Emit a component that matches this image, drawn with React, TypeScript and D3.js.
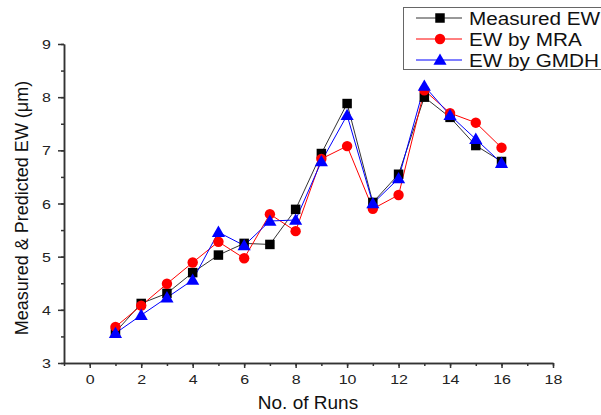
import React, { useEffect, useRef } from 'react';
import * as d3 from 'd3';

const runs = [1, 2, 3, 4, 5, 6, 7, 8, 9, 10, 11, 12, 13, 14, 15, 16];
const measuredEW = [3.58, 4.12, 4.31, 4.7, 5.03, 5.25, 5.23, 5.89, 6.94, 7.88, 6.02, 6.55, 8.0, 7.62, 7.09, 6.79];
const mraEW = [3.68, 4.08, 4.49, 4.89, 5.28, 4.97, 5.8, 5.48, 6.84, 7.08, 5.9, 6.16, 8.13, 7.7, 7.52, 7.05];
const gmdhEW = [3.56, 3.9, 4.23, 4.56, 5.46, 5.21, 5.67, 5.69, 6.79, 7.66, 6.0, 6.47, 8.21, 7.66, 7.21, 6.76];
const xTicks = [0, 2, 4, 6, 8, 10, 12, 14, 16, 18];
const yTicks = [3, 4, 5, 6, 7, 8, 9];
const seriesNames = ['Measured EW', 'EW by MRA', 'EW by GMDH'];

const FONT = '"Liberation Sans", Arial, sans-serif';
// the source picture is a little wider than tall, so text is stretched sideways
const TICK_STRETCH = 1.28;
const LEGEND_STRETCH = 1.12;

const App = () => {
  const ref = useRef<SVGSVGElement>(null);

  useEffect(() => {
    const svg = d3.select(ref.current);
    svg.selectAll('*').remove();

    const x = d3.scaleLinear().domain([-1, 18]).range([64, 553]);
    const y = d3.scaleLinear().domain([3, 9]).range([363, 44]);

    const series = [
      { name: seriesNames[0], values: measuredEW, color: '#000000', line: '#333333', shape: 'square' },
      { name: seriesNames[1], values: mraEW, color: '#ff0000', line: '#ff0000', shape: 'circle' },
      { name: seriesNames[2], values: gmdhEW, color: '#0000ff', line: '#0000ff', shape: 'triangle' },
    ];

    const symbolFor = (shape: string) => {
      if (shape === 'square') return d3.symbol(d3.symbolSquare, 90);
      if (shape === 'circle') return d3.symbol(d3.symbolCircle, 85);
      return d3.symbol(d3.symbolTriangle, 75);
    };

    const axisColor = '#333';

    // x axis, minor ticks every run
    const xAxis = svg.append('g').attr('transform', `translate(0,${y(3)})`);
    xAxis.call(
      d3.axisBottom(x).tickValues(d3.range(-1, 18.5, 1)).tickSize(3).tickFormat(() => '').tickSizeOuter(0)
    );
    const xMajor = xAxis.append('g').call(
      d3.axisBottom(x).tickValues(xTicks).tickSize(5).tickSizeOuter(0).tickFormat(d3.format('d'))
    );
    xAxis.selectAll('path, line').attr('stroke', axisColor).attr('stroke-width', 1.5);
    xMajor.selectAll('text')
      .attr('font-family', FONT)
      .attr('font-size', 12.5)
      .attr('fill', '#222')
      .attr('y', 21)
      .attr('dy', 0)
      .attr('transform', `scale(${TICK_STRETCH},1)`);

    // y axis, minor ticks at halves
    const yAxis = svg.append('g').attr('transform', `translate(${x(-1)},0)`);
    yAxis.call(
      d3.axisLeft(y).tickValues(d3.range(3, 9.01, 0.5)).tickSize(3).tickFormat(() => '').tickSizeOuter(0)
    );
    const yMajor = yAxis.append('g').call(
      d3.axisLeft(y).tickValues(yTicks).tickSize(6).tickSizeOuter(0).tickFormat(d3.format('d'))
    );
    yAxis.selectAll('path, line').attr('stroke', axisColor).attr('stroke-width', 1.5);
    yMajor.selectAll('text')
      .attr('font-family', FONT)
      .attr('font-size', 12.5)
      .attr('fill', '#222')
      .attr('x', -13 / TICK_STRETCH)
      .attr('dy', '0.36em')
      .attr('transform', `scale(${TICK_STRETCH},1)`);

    // series lines
    series.forEach((s) => {
      const line = d3
        .line<number>()
        .x((_, i) => x(runs[i]))
        .y((d) => y(d));
      svg.append('path')
        .datum(s.values)
        .attr('fill', 'none')
        .attr('stroke', s.line)
        .attr('stroke-width', 1)
        .attr('d', line);
    });
    // markers
    series.forEach((s) => {
      svg.append('g')
        .selectAll('path')
        .data(s.values)
        .join('path')
        .attr('transform', (d, i) => `translate(${x(runs[i])},${y(d) + (s.shape === 'triangle' ? 1 : 0)})`)
        .attr('d', symbolFor(s.shape)())
        .attr('fill', s.color);
    });

    // axis titles
    svg.append('text')
      .attr('x', 308)
      .attr('y', 409)
      .attr('text-anchor', 'middle')
      .attr('font-family', FONT)
      .attr('font-size', 19)
      .attr('fill', '#111')
      .text('No. of Runs');

    svg.append('text')
      .attr('transform', 'translate(28,208) rotate(-90)')
      .attr('text-anchor', 'middle')
      .attr('font-family', FONT)
      .attr('font-size', 18)
      .attr('fill', '#111')
      .text('Measured & Predicted EW (\u03bcm)');

    // legend
    const legend = svg.append('g');
    legend.append('rect')
      .attr('x', 403.5)
      .attr('y', 7.5)
      .attr('width', 205)
      .attr('height', 62)
      .attr('fill', '#fff')
      .attr('stroke', '#666')
      .attr('stroke-width', 1);
    series.forEach((s, i) => {
      const ly = 18 + i * 21;
      legend.append('line')
        .attr('x1', 416).attr('x2', 462)
        .attr('y1', ly).attr('y2', ly)
        .attr('stroke', s.line)
        .attr('stroke-width', 1);
      legend.append('path')
        .attr('transform', `translate(440,${ly + (s.shape === 'triangle' ? 1 : 0)})`)
        .attr('d', symbolFor(s.shape)())
        .attr('fill', s.color);
      legend.append('text')
        .attr('transform', `translate(469,${ly}) scale(${LEGEND_STRETCH},1)`)
        .attr('dy', '0.36em')
        .attr('font-family', FONT)
        .attr('font-size', 18.5)
        .attr('fill', '#111')
        .text(s.name);
    });
  }, []);

  return (
    <svg
      ref={ref}
      width={601}
      height={415}
      style={{ position: 'absolute', left: 0, top: 0, background: '#fff' }}
    ></svg>
  );
};

export default App;
